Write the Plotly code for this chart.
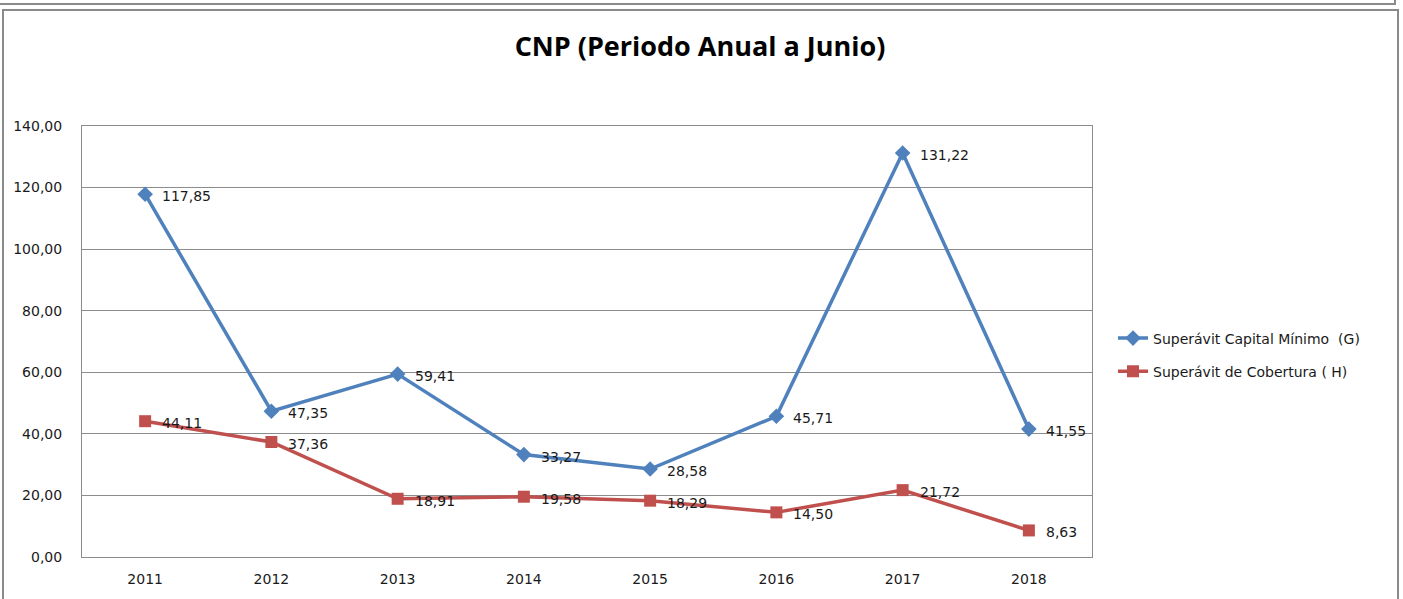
import plotly.graph_objects as go

years = ["2011", "2012", "2013", "2014", "2015", "2016", "2017", "2018"]
capital_minimo = [117.85, 47.35, 59.41, 33.27, 28.58, 45.71, 131.22, 41.55]
cobertura = [44.11, 37.36, 18.91, 19.58, 18.29, 14.50, 21.72, 8.63]
y_ticks = [0, 20, 40, 60, 80, 100, 120, 140]

def fmt(v):
    return f"{v:.2f}".replace(".", ",")

BLUE = "#4F81BD"
RED = "#C0504D"
GRID = "#8c8c8c"
FONT = "DejaVu Sans"
TXT = "#1a1a1a"

fig = go.Figure()
fig.add_trace(go.Scatter(
    x=years, y=capital_minimo, mode="lines+markers",
    name="Superávit Capital Mínimo\u00a0 (G)",
    line=dict(color=BLUE, width=3.5),
    marker=dict(symbol="diamond", size=12, color=BLUE),
    legendgroup="g", cliponaxis=False,
))
fig.add_trace(go.Scatter(
    x=years, y=cobertura, mode="lines+markers",
    name="Superávit de Cobertura ( H)",
    line=dict(color=RED, width=3.5),
    marker=dict(symbol="square", size=12, color=RED),
    legendgroup="h", cliponaxis=False,
))

annotations = []
for series in (capital_minimo, cobertura):
    for i, v in enumerate(series):
        annotations.append(dict(
            x=i, y=v, xref="x", yref="y", text=fmt(v), showarrow=False,
            xanchor="left", yanchor="middle", xshift=15, yshift=-2,
            font=dict(family=FONT, size=14, color=TXT),
        ))

W, H = 1403, 599
L, R, T, B = 82, 1092, 126, 557

def px(X):
    return (X - L) / (R - L)

def py(Y):
    return (B - Y) / (B - T)

shapes = [
    dict(type="rect", xref="paper", yref="paper",
         x0=px(3), x1=px(1398), y0=py(620), y1=py(10),
         line=dict(color="#8a8a8a", width=2), fillcolor="rgba(0,0,0,0)", layer="below"),
    dict(type="rect", xref="paper", yref="paper",
         x0=px(-10), x1=px(1395), y0=py(4), y1=py(-10),
         line=dict(color="#8a8a8a", width=2), fillcolor="rgba(0,0,0,0)", layer="below"),
]

fig.update_layout(
    width=W, height=H,
    margin=dict(l=L, r=W - R, t=T, b=H - B, pad=0),
    paper_bgcolor="white", plot_bgcolor="white",
    separators=",.",
    title=dict(text="<b>CNP (Periodo Anual a Junio)</b>", x=700 / W, xanchor="center",
               y=1 - 47 / H, yanchor="middle", yref="container",
               font=dict(family="Open Sans", size=27, color="#000")),
    font=dict(family=FONT, size=14, color=TXT),
    xaxis=dict(type="category", range=[-0.5, 7.5], showgrid=False,
               showline=True, linecolor=GRID, linewidth=1, mirror=True,
               ticks="", tickfont=dict(family=FONT, size=14, color=TXT),
               ticklabelstandoff=9),
    yaxis=dict(range=[0, 140], tickvals=y_ticks, ticktext=[fmt(v) for v in y_ticks],
               showgrid=True, gridcolor=GRID, gridwidth=1,
               showline=True, linecolor=GRID, linewidth=1, mirror=True,
               zeroline=False, ticks="", ticklabelstandoff=16,
               tickfont=dict(family=FONT, size=14, color=TXT)),
    legend=dict(x=px(1113), y=py(355), xanchor="left", yanchor="middle",
                font=dict(family=FONT, size=14, color=TXT),
                tracegroupgap=12, bgcolor="rgba(0,0,0,0)"),
    shapes=shapes,
    annotations=annotations,
)

fig.write_html("out.html", config={"displayModeBar": False},
               post_script="document.body.style.margin='0';")
